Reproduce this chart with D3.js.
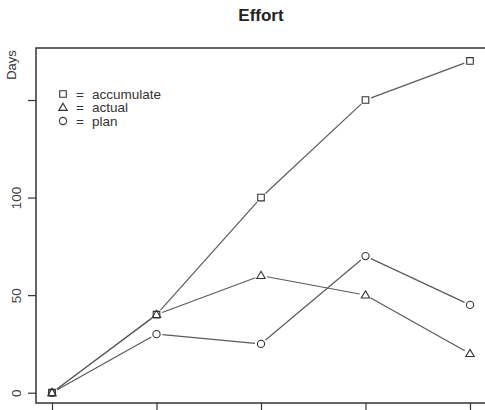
<!DOCTYPE html>
<html>
<head>
<meta charset="utf-8">
<script src="https://cdn.jsdelivr.net/npm/d3@7"></script>
<style>
  html, body { margin: 0; padding: 0; background: #fff; }
  svg { display: block; font-family: "Liberation Sans", Arial, Helvetica, sans-serif; }
</style>
</head>
<body>
<svg id="chart" width="485" height="410"></svg>
<script>
// Effort in days per step, three series
const steps = [1, 2, 3, 4, 5];
const accumulate = [0, 40, 100, 150, 170];
const actual = [0, 40, 60, 50, 20];
const plan = [0, 30, 25, 70, 45];
const yTicks = [0, 50, 100, 150];
const yTickLabels = ["0", "50", "100", ""];
const legendLabels = ["accumulate", "actual", "plan"];
const legendSymbols = ["square", "triangle", "circle"];

const svg = d3.select("#chart");
const box = { left: 36, top: 48, right: 520, bottom: 403 };

const x = d3.scaleLinear().domain([1, 5]).range([52, 470]);
const y = d3.scaleLinear().domain([0, 150]).range([392.7, 100]);

const lineColor = "#5a5a5a";
const markColor = "#333";

// title
svg.append("text")
  .attr("x", 261).attr("y", 21)
  .attr("text-anchor", "middle")
  .attr("font-size", 17).attr("font-weight", "bold")
  .attr("fill", "#222")
  .text("Effort");

// y axis label
svg.append("text")
  .attr("transform", "translate(16,65) rotate(-90)")
  .attr("text-anchor", "middle")
  .attr("font-size", 13).attr("fill", "#333")
  .text("Days");

// plot frame
svg.append("rect")
  .attr("x", box.left).attr("y", box.top)
  .attr("width", box.right - box.left).attr("height", box.bottom - box.top)
  .attr("fill", "none").attr("stroke", "#333").attr("stroke-width", 1.5);

// y axis ticks, labels rotated as in base graphics
const yAxis = d3.axisLeft(y).tickValues(yTicks).tickSize(8).tickSizeOuter(0)
  .tickFormat((d, i) => yTickLabels[i]);
const gy = svg.append("g").attr("transform", `translate(${box.left},0)`).call(yAxis);
gy.select(".domain").remove();
gy.selectAll(".tick line").attr("stroke", "#333").attr("stroke-width", 1.2);
gy.selectAll(".tick text")
  .attr("x", null).attr("dy", null)
  .attr("text-anchor", "middle")
  .attr("transform", "translate(-20,0) rotate(-90)")
  .attr("dy", "0.35em")
  .attr("font-size", 13.5).attr("fill", "#444")
  .attr("font-family", "Liberation Sans, Arial, sans-serif");

// x axis ticks below the frame
const xAxis = d3.axisBottom(x).tickValues(steps).tickSize(10).tickSizeOuter(0).tickFormat("");
const gx = svg.append("g").attr("transform", `translate(0,${box.bottom})`).call(xAxis);
gx.select(".domain").remove();
gx.selectAll(".tick line").attr("stroke", "#333").attr("stroke-width", 1.2);

// connecting segments with gaps around the points
function drawSeries(values) {
  const pts = values.map((v, i) => [x(steps[i]), y(v)]);
  const gap = 6;
  const segs = [];
  for (let i = 0; i < pts.length - 1; i++) {
    const [x0, y0] = pts[i], [x1, y1] = pts[i + 1];
    const len = Math.hypot(x1 - x0, y1 - y0);
    if (len <= 2 * gap) continue;
    const ux = (x1 - x0) / len, uy = (y1 - y0) / len;
    segs.push([x0 + ux * gap, y0 + uy * gap, x1 - ux * gap, y1 - uy * gap]);
  }
  svg.append("g").selectAll("line").data(segs).join("line")
    .attr("x1", d => d[0]).attr("y1", d => d[1])
    .attr("x2", d => d[2]).attr("y2", d => d[3])
    .attr("stroke", lineColor).attr("stroke-width", 1.2);
}

function marker(g, kind, cx, cy) {
  const s = g.append("path")
    .attr("fill", "none").attr("stroke", markColor).attr("stroke-width", 1.1);
  if (kind === "square") {
    s.attr("d", `M${cx - 3.3},${cy - 3.3}h6.6v6.6h-6.6Z`);
  } else if (kind === "triangle") {
    s.attr("d", `M${cx},${cy - 4.3}L${cx + 4.2},${cy + 2.9}L${cx - 4.2},${cy + 2.9}Z`);
  } else {
    s.attr("d", d3.arc()({ innerRadius: 0, outerRadius: 3.6, startAngle: 0, endAngle: 2 * Math.PI }))
      .attr("transform", `translate(${cx},${cy})`);
  }
}

const seriesList = [accumulate, actual, plan];
seriesList.forEach(drawSeries);
seriesList.forEach((vals, k) => {
  const g = svg.append("g");
  vals.forEach((v, i) => marker(g, legendSymbols[k], x(steps[i]), y(v)));
});

// legend
const legendY = [94, 107.5, 121];
legendLabels.forEach((lab, i) => {
  const g = svg.append("g");
  marker(g, legendSymbols[i], 63, legendY[i]);
  g.append("text")
    .attr("x", 76).attr("y", legendY[i]).attr("dy", "0.35em")
    .attr("font-size", 13.5).attr("fill", "#333")
    .text("=");
  g.append("text")
    .attr("x", 92).attr("y", legendY[i]).attr("dy", "0.35em")
    .attr("font-size", 13.5).attr("fill", "#333")
    .text(lab);
});
</script>
</body>
</html>
